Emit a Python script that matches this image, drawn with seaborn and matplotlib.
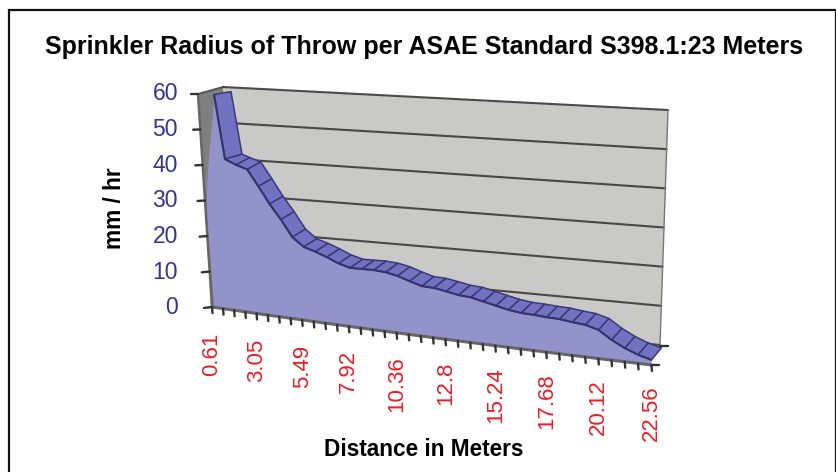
import numpy as np
import pandas as pd
import matplotlib
matplotlib.use("Agg")
import matplotlib.pyplot as plt
import seaborn as sns

title = "Sprinkler Radius of Throw per ASAE Standard S398.1:23 Meters"
x_title = "Distance in Meters"
y_title = "mm / hr"
rate = [59, 41.4, 40.2, 39.3, 35, 30.5, 26.6, 22.2, 19.9, 19, 17.9, 16.6, 15.8,
        15.9, 16, 15.8, 15.2, 14.2, 13.3, 13.2, 12.7, 12.1, 11.9, 11.2, 10.5,
        9.8, 9.4, 9.3, 9.1, 9, 8.6, 8.3, 7.4, 5.2, 3.5, 2.2, 1.3]
tick_labels = ["0.61", "3.05", "5.49", "7.92", "10.36", "12.8", "15.24",
               "17.68", "20.12", "22.56"]
y_ticks = [0, 10, 20, 30, 40, 50, 60]

sns.set_theme(style="white")
plt.rcParams['font.family'] = ['Liberation Sans', 'DejaVu Sans']
df = pd.DataFrame({"rate": rate})
N = len(df) - 1


def fx(i):
    return 212 + 11 * np.asarray(i, float) + 0.0335 * np.asarray(i, float) ** 2


def fy(i):
    return 307 + 1.61 * np.asarray(i, float)


def front(i, v):
    """chart position of a point on the plane of the area face"""
    u = np.asarray(i, float) / N
    return fx(i) + 2 * (1 - u), fy(i) - (3.6 + 0.3 * u) * np.asarray(v, float)


def back(u, v):
    """chart position of a point on the back wall (u, v in 0..1)"""
    l = np.array([228, 301]) + v * np.array([-5, -214])
    r = np.array([660, 345]) + v * np.array([8, -235])
    return l + u * (r - l)


fig = plt.figure(figsize=(8.37, 4.72), dpi=100)
ax = fig.add_axes([0, 0, 1, 1])
ax.set_xlim(0, 837)
ax.set_ylim(472, 0)
ax.axis("off")

# frame
ax.plot([836, 836, 9.5, 9.5], [472, 10, 10, 472], color="#111111", lw=1.6,
        solid_joinstyle="miter", zorder=1)

# back wall and side wall
wall = np.array([back(0, 0), back(0, 1), back(1, 1), back(1, 0)])
ax.fill(wall[:, 0], wall[:, 1], color="#C9C9C7", lw=0, zorder=2)
side_x = [212, 198, 223, 228]
side_y = [307, 94, 87, 301]
ax.fill(side_x, side_y, color="#7F7F7F", lw=0, zorder=3)
ax.plot([198, 223], [94, 87], color="#555555", lw=1.4, zorder=4)
for t in y_ticks:
    a, b = back(0, t / 60), back(1, t / 60)
    ax.plot([a[0], b[0]], [a[1], b[1]], color="#3A3A3A", lw=1.5, alpha=0.9,
            zorder=4)
ax.plot(wall[2:, 0], wall[2:, 1], color="#777777", lw=1.0, zorder=4)

# area face
idx = np.arange(N + 1)
px, py = front(idx, df["rate"].to_numpy())
bx, by = front(idx, np.zeros(N + 1))
ax.fill(np.r_[px, bx[::-1]], np.r_[py, by[::-1]], color="#9393CC", lw=0,
        zorder=5)

# area's left edge bowing toward the side wall
vv = np.linspace(0, rate[0], 30)
ex, ey = front(np.zeros(30), vv)
ax.fill(np.r_[ex - 7 * np.sin(np.pi * vv / rate[0]) ** 1.5, ex[::-1] + 4],
        np.r_[ey, ey[::-1]], color="#9393CC", lw=0, zorder=5)

# ribbon along the top of the area
u = idx / N
dx = 14 - 4 * u
dy = -7 - 5 * u
dx[:2] = 17
dy[:2] = [-3, -5]
for i in range(N):
    qx = [px[i], px[i + 1], px[i + 1] + dx[i + 1], px[i] + dx[i]]
    qy = [py[i], py[i + 1], py[i + 1] + dy[i + 1], py[i] + dy[i]]
    ax.fill(qx, qy, facecolor="#7272C0", edgecolor="#3A3A78", lw=1.1,
            joinstyle="round", zorder=6)
sns.lineplot(x=px, y=py, ax=ax, color="#34346E", lw=1.5, legend=False,
             estimator=None, sort=False, zorder=7)

# axes lines and ticks
ax.plot(fx(idx), fy(idx), color="#666666", lw=2.2, zorder=8)
for i in idx:
    ax.plot([fx(i), fx(i) + 0.5], [fy(i), fy(i) + 6], color="#333333", lw=1.7,
            zorder=8)
ax.plot([212, 198], [307, 94], color="#666666", lw=1.8, zorder=8)
for t in y_ticks:
    f = t / 60
    ax.plot([212 - 14 * f, 204 - 13 * f], [307 - 213 * f, 308 - 214 * f],
            color="#333333", lw=1.7, zorder=8)
    ax.text(178, 308 - 214.5 * f, str(t), color="#333399", fontsize=16.5,
            ha="right", va="center", zorder=9)
ax.plot([fx(N), fx(N) + 8], [fy(N), fy(N)], color="#333333", lw=1.7, zorder=8)
ax.plot([660, 668], [346, 346], color="#333333", lw=1.7, zorder=8)

# labels
for k, lab in enumerate(tick_labels):
    i = 4 * k
    ax.text(fx(i), fy(i) + 26 - 6 * i / N, lab, color="#EE1C25", fontsize=16,
            rotation=90, ha="center", va="top", zorder=9)
ax.text(424, 47, title, color="black", fontsize=18, fontweight="bold",
        ha="center", va="center", zorder=9)
ax.text(424, 450, x_title, color="black", fontsize=16.3, fontweight="bold",
        ha="center", va="center", zorder=9)
ax.text(115, 208, y_title, color="black", fontsize=16.3, fontweight="bold",
        rotation=90, ha="center", va="center", zorder=9)

fig.savefig("out.png", dpi=100)
